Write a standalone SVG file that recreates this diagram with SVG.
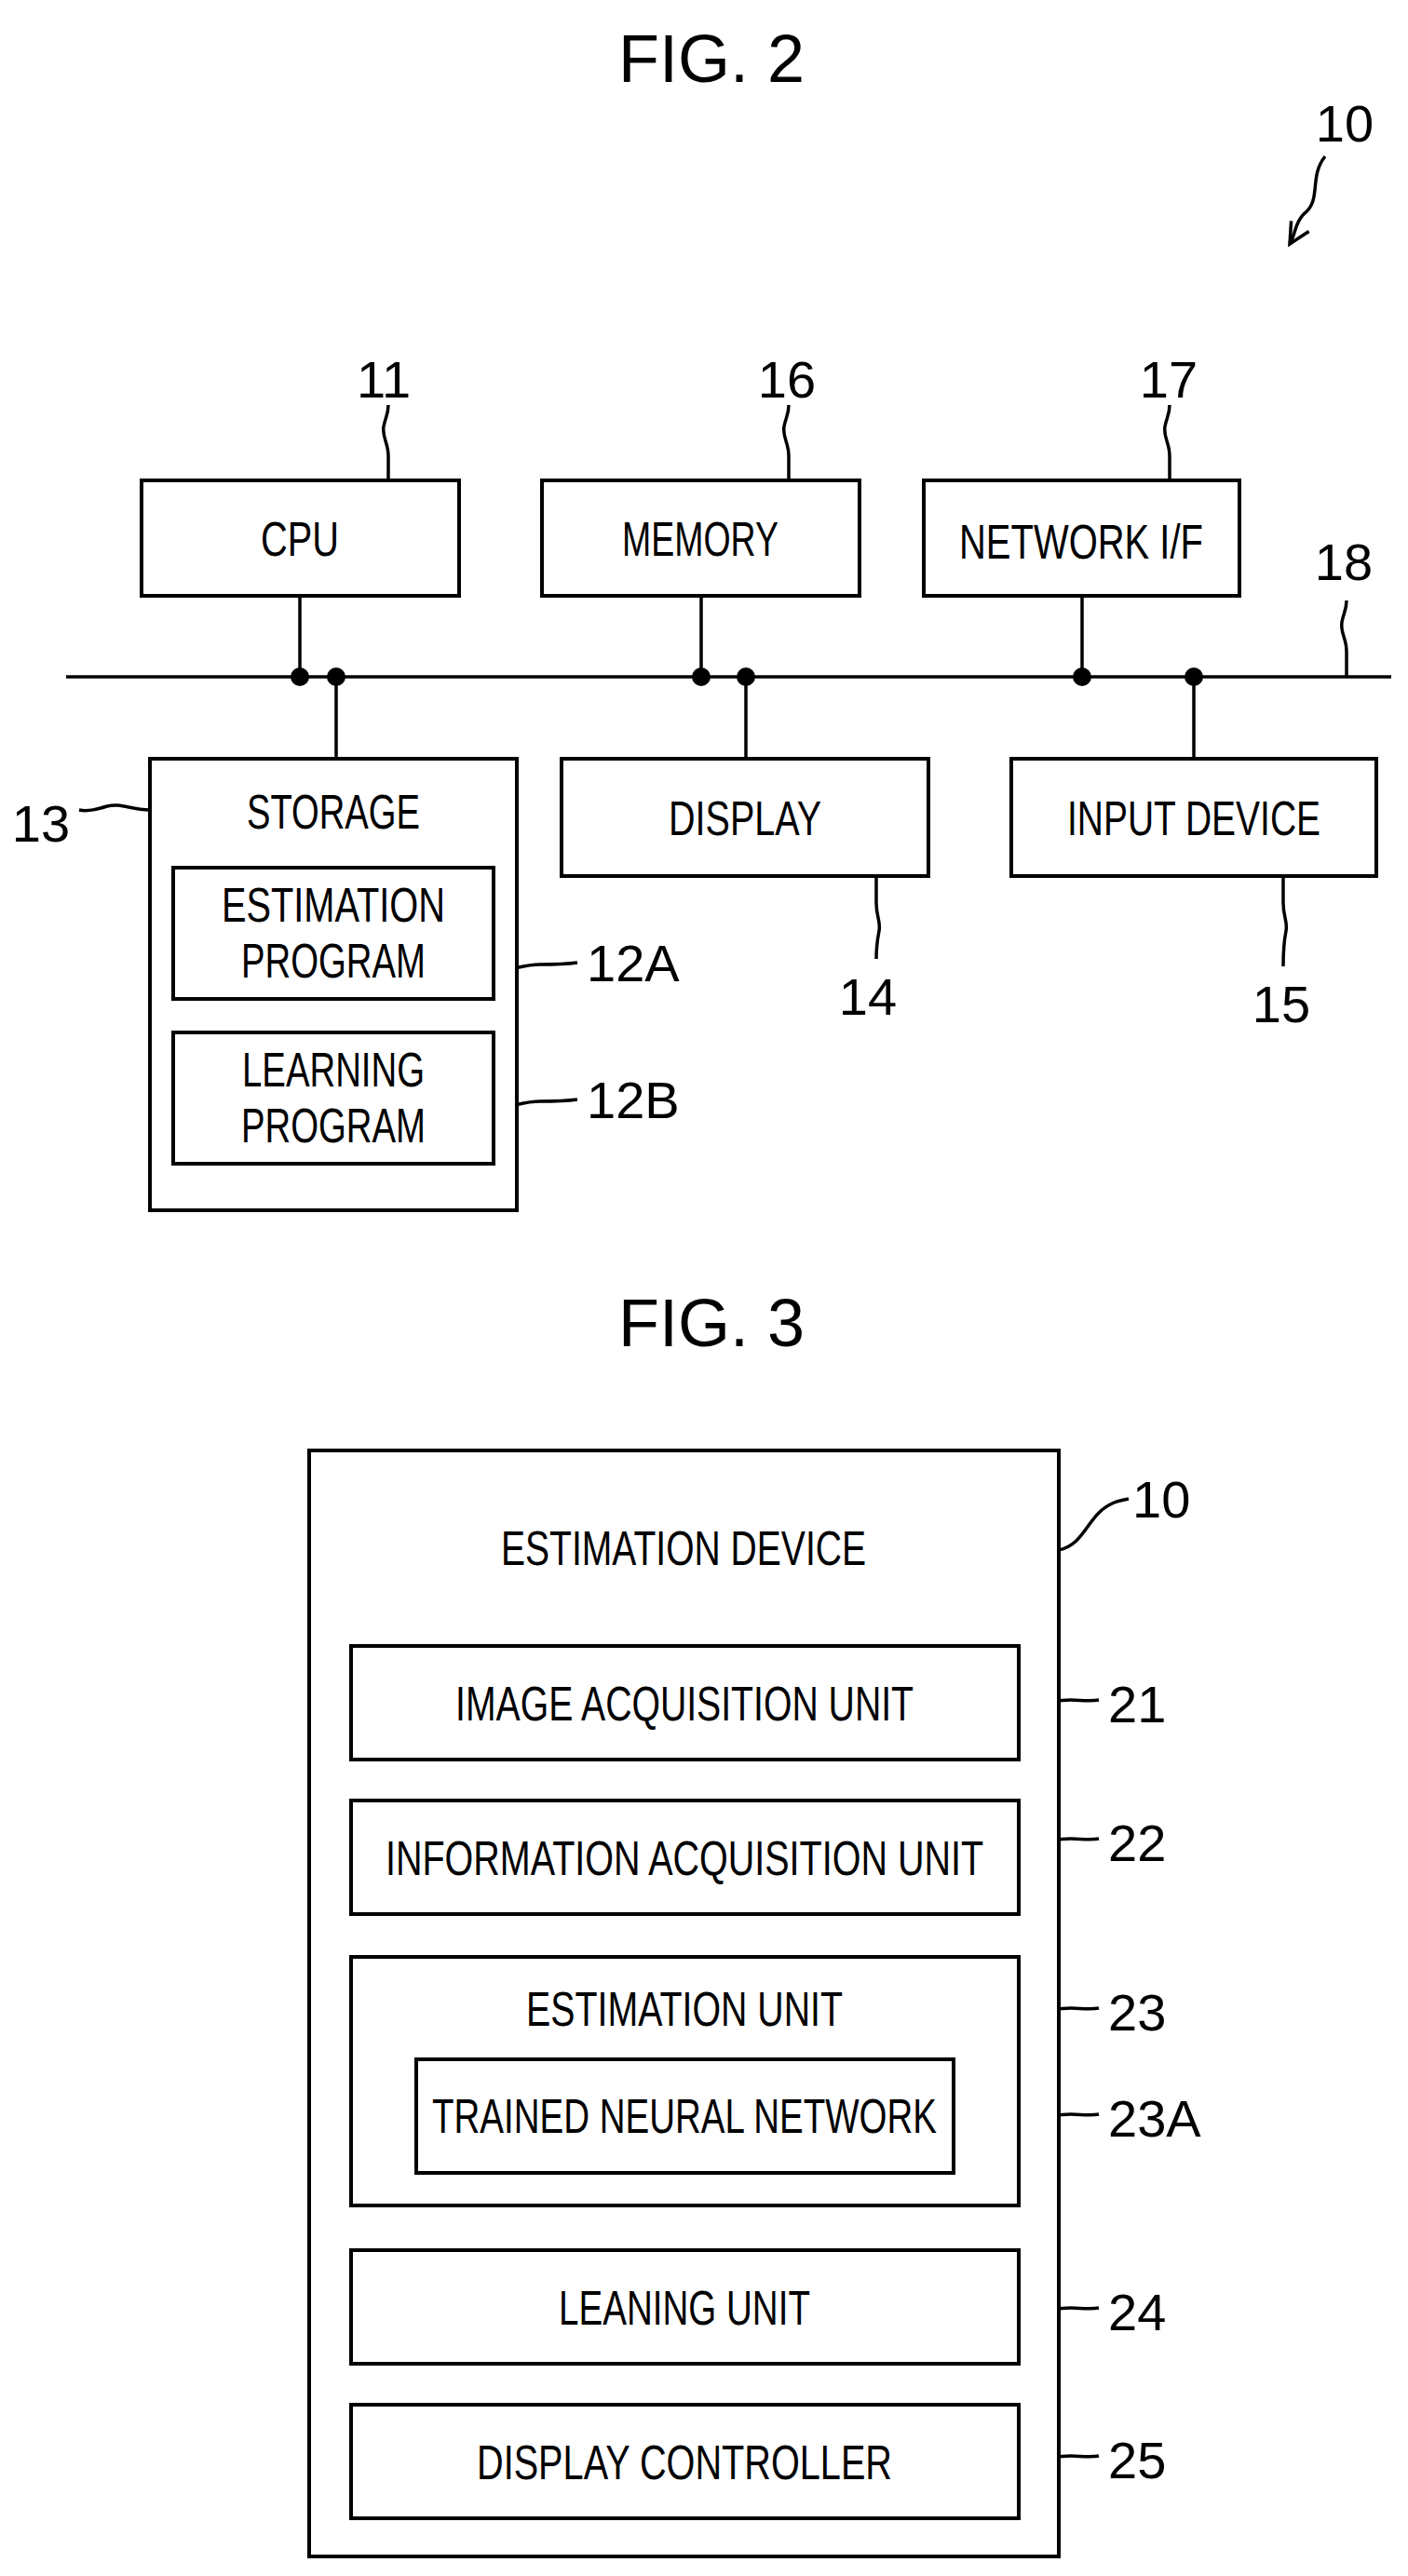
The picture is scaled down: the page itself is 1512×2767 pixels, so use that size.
<svg xmlns="http://www.w3.org/2000/svg" width="1512" height="2767" viewBox="0 0 1512 2767">
<style>
rect{fill:#fff;stroke:#000;stroke-width:4}
.l{fill:none;stroke:#000;stroke-width:3.5}
text{font-family:"Liberation Sans",Arial,sans-serif;fill:#000;text-anchor:middle}
.t{font-size:52px}
.n{font-size:56px}
.s{text-anchor:start}
.h{font-size:72px}
.d{fill:#000}
</style>
<defs>
<marker id="a2" markerWidth="30" markerHeight="30" refX="26" refY="15" orient="auto" markerUnits="userSpaceOnUse"><path d="M4,4 L26,15 L4,26" fill="none" stroke="#000" stroke-width="3.5"/></marker></defs>
<text class="h" x="764" y="88">FIG. 2</text>
<text class="n" x="1444" y="152">10</text>
<path class="l" d="M1423,168 C1405,190 1420,215 1400,230 C1390,240 1392,250 1385,262" marker-end="url(#a2)"/>
<g id="connectors">
<line class="l" x1="71" y1="727" x2="1494" y2="727"/>
<line class="l" x1="322" y1="640" x2="322" y2="727"/>
<line class="l" x1="361" y1="727" x2="361" y2="815"/>
<line class="l" x1="753" y1="640" x2="753" y2="727"/>
<line class="l" x1="801" y1="727" x2="801" y2="815"/>
<line class="l" x1="1162" y1="640" x2="1162" y2="727"/>
<line class="l" x1="1282" y1="727" x2="1282" y2="815"/>
<circle class="d" cx="322" cy="727" r="10"/><circle class="d" cx="361" cy="727" r="10"/>
<circle class="d" cx="753" cy="727" r="10"/><circle class="d" cx="801" cy="727" r="10"/>
<circle class="d" cx="1162" cy="727" r="10"/><circle class="d" cx="1282" cy="727" r="10"/>
<path class="l" d="M417,516 L417,490 C417,475 410,470 412,458 C414,448 417,445 417,435"/>
<path class="l" d="M847,516 L847,490 C847,475 840,470 842,458 C844,448 847,445 847,435"/>
<path class="l" d="M1256,516 L1256,490 C1256,475 1249,470 1251,458 C1253,448 1256,445 1256,435"/>
<path class="l" d="M1446,727 L1446,700 C1446,685 1439,680 1441,668 C1443,658 1446,655 1446,645"/>
<path class="l" d="M161,870 C140,870 130,862 115,866 C105,869 95,872 85,870"/>
<path class="l" d="M530,1043 C550,1043 560,1036 580,1036 C595,1036 605,1036 620,1034"/>
<path class="l" d="M530,1190 C550,1190 560,1183 580,1183 C595,1183 605,1183 620,1181"/>
<path class="l" d="M941,941 L941,970 C941,985 946,990 944,1000 C942,1010 941,1015 941,1030"/>
<path class="l" d="M1378,941 L1378,970 C1378,985 1383,990 1381,1000 C1379,1010 1378,1020 1378,1038"/>
<path class="l" d="M1137,1665 C1160,1660 1165,1640 1180,1625 C1190,1615 1200,1612 1212,1610"/>
<path class="l" d="M1094,1829 C1120,1831 1130,1826 1150,1826 C1160,1826 1170,1828 1180,1826"/>
<path class="l" d="M1094,1978 C1120,1980 1130,1975 1150,1975 C1160,1975 1170,1977 1180,1975"/>
<path class="l" d="M1094,2160 C1120,2162 1130,2157 1150,2157 C1160,2157 1170,2159 1180,2157"/>
<path class="l" d="M1094,2274 C1120,2276 1130,2271 1150,2271 C1160,2271 1170,2273 1180,2271"/>
<path class="l" d="M1094,2482 C1120,2484 1130,2479 1150,2479 C1160,2479 1170,2481 1180,2479"/>
<path class="l" d="M1094,2641 C1120,2643 1130,2638 1150,2638 C1160,2638 1170,2640 1180,2638"/>
</g>
<g id="cpu"><rect x="152" y="516" width="341" height="124"/><text class="t" x="322" y="597" textLength="84" lengthAdjust="spacingAndGlyphs">CPU</text></g>
<g id="memory"><rect x="582" y="516" width="341" height="124"/><text class="t" x="752" y="597" textLength="168" lengthAdjust="spacingAndGlyphs">MEMORY</text></g>
<g id="netif"><rect x="992" y="516" width="339" height="124"/><text class="t" x="1161" y="600" textLength="262" lengthAdjust="spacingAndGlyphs">NETWORK I/F</text></g>
<g id="storage"><rect x="161" y="815" width="394" height="485"/><text class="t" x="358" y="890" textLength="186" lengthAdjust="spacingAndGlyphs">STORAGE</text>
<rect x="186" y="932" width="344" height="141"/><text class="t" x="358" y="990" textLength="240" lengthAdjust="spacingAndGlyphs">ESTIMATION</text><text class="t" x="358" y="1050" textLength="198" lengthAdjust="spacingAndGlyphs">PROGRAM</text>
<rect x="186" y="1109" width="344" height="141"/><text class="t" x="358" y="1167" textLength="196" lengthAdjust="spacingAndGlyphs">LEARNING</text><text class="t" x="358" y="1227" textLength="198" lengthAdjust="spacingAndGlyphs">PROGRAM</text></g>
<g id="display"><rect x="603" y="815" width="394" height="126"/><text class="t" x="800" y="897" textLength="164" lengthAdjust="spacingAndGlyphs">DISPLAY</text></g>
<g id="input"><rect x="1086" y="815" width="392" height="126"/><text class="t" x="1282" y="897" textLength="272" lengthAdjust="spacingAndGlyphs">INPUT DEVICE</text></g>
<g id="labels2">
<text class="n" x="412" y="427">11</text><text class="n" x="845" y="427">16</text><text class="n" x="1255" y="427">17</text><text class="n" x="1443" y="623">18</text>
<text class="n" x="44" y="904">13</text><text class="n s" x="630" y="1054">12A</text><text class="n s" x="630" y="1201">12B</text>
<text class="n" x="932" y="1090">14</text><text class="n" x="1376" y="1098">15</text></g>
<text class="h" x="764" y="1446">FIG. 3</text>
<g id="device"><rect x="332" y="1558" width="805" height="1188"/><text class="t" x="734" y="1681" textLength="392" lengthAdjust="spacingAndGlyphs">ESTIMATION DEVICE</text></g>
<g id="u21"><rect x="377" y="1768" width="717" height="122"/><text class="t" x="735" y="1848" textLength="492" lengthAdjust="spacingAndGlyphs">IMAGE ACQUISITION UNIT</text></g>
<g id="u22"><rect x="377" y="1934" width="717" height="122"/><text class="t" x="735" y="2014" textLength="642" lengthAdjust="spacingAndGlyphs">INFORMATION ACQUISITION UNIT</text></g>
<g id="u23"><rect x="377" y="2102" width="717" height="267"/><text class="t" x="735" y="2176" textLength="340" lengthAdjust="spacingAndGlyphs">ESTIMATION UNIT</text></g>
<g id="u23a"><rect x="447" y="2212" width="577" height="122"/><text class="t" x="735" y="2291" textLength="542" lengthAdjust="spacingAndGlyphs">TRAINED NEURAL NETWORK</text></g>
<g id="u24"><rect x="377" y="2417" width="717" height="122"/><text class="t" x="735" y="2497" textLength="270" lengthAdjust="spacingAndGlyphs">LEANING UNIT</text></g>
<g id="u25"><rect x="377" y="2583" width="717" height="122"/><text class="t" x="735" y="2663" textLength="446" lengthAdjust="spacingAndGlyphs">DISPLAY CONTROLLER</text></g>
<g id="labels3">
<text class="n s" x="1216" y="1630">10</text><text class="n s" x="1190" y="1850">21</text><text class="n s" x="1190" y="1999">22</text><text class="n s" x="1190" y="2181">23</text><text class="n s" x="1190" y="2295">23A</text><text class="n s" x="1190" y="2503">24</text><text class="n s" x="1190" y="2662">25</text></g>
</svg>
